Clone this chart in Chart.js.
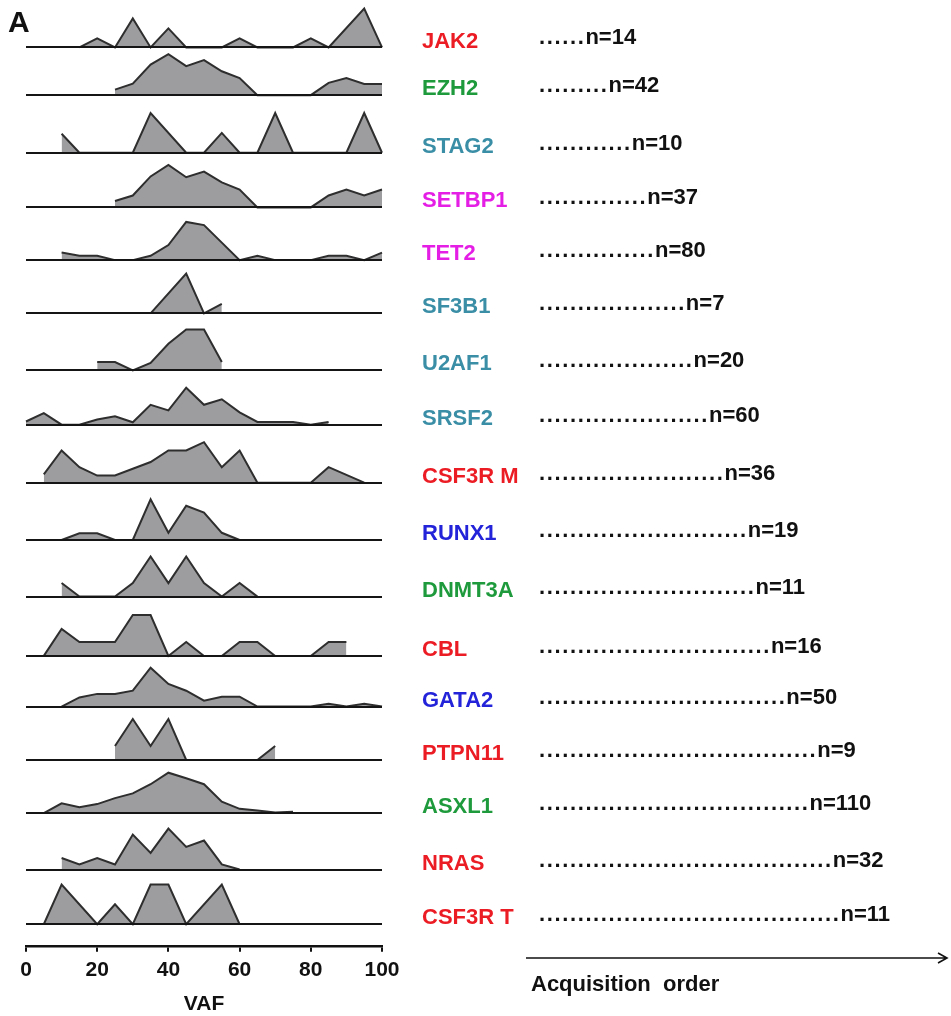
<!DOCTYPE html>
<html>
<head>
<meta charset="utf-8">
<title>VAF by gene</title>
<script src="https://cdn.jsdelivr.net/npm/chart.js@4.4.0/dist/chart.umd.min.js"></script>
<style>
    html, body { margin: 0; padding: 0; background: #fff; }
    #wrap { position: relative; width: 951px; height: 1016px; }
    canvas { display: block; }
</style>
</head>
<body>
<div id="wrap"><canvas id="vafChart" width="951" height="1016"></canvas></div>
<script>
// --- Data ---
// Genes in acquisition order (top to bottom)
const genes = ['JAK2', 'EZH2', 'STAG2', 'SETBP1', 'TET2', 'SF3B1', 'U2AF1', 'SRSF2', 'CSF3R M',
    'RUNX1', 'DNMT3A', 'CBL', 'GATA2', 'PTPN11', 'ASXL1', 'NRAS', 'CSF3R T'];
const geneCounts = [14, 42, 10, 37, 80, 7, 20, 60, 36, 19, 11, 16, 50, 9, 110, 32, 11];
// number of leader dots before each "n=" label
const leaderDots = [6, 9, 12, 14, 15, 19, 20, 22, 24, 27, 28, 30, 32, 36, 35, 38, 39];
const vafTicks = [0, 20, 40, 60, 80, 100];

// VAF distributions: [VAF %, relative frequency]
const jak2 = [[15, 0], [20, 2.3], [25, 0], [30, 7.3], [35, 0], [40, 4.8], [45, 0], [55, 0], [60, 2.3], [65, 0], [75, 0], [80, 2.3], [85, 0], [95, 9.8], [100, 0]];
const ezh2 = [[25, 1.4], [30, 2.9], [35, 7.7], [40, 10.3], [45, 7.3], [50, 8.8], [55, 6], [60, 4.3], [65, 0], [80, 0], [85, 3.1], [90, 4.3], [95, 2.8], [100, 2.8]];
const stag2 = [[10, 4.8], [15, 0], [30, 0], [35, 10], [45, 0], [50, 0], [55, 5], [60, 0], [65, 0], [70, 10], [75, 0], [90, 0], [95, 10], [100, 0]];
const setbp1 = [[25, 1.6], [30, 3], [35, 7.8], [40, 10.7], [45, 7.6], [50, 9], [55, 6.3], [60, 4.5], [65, 0], [80, 0], [85, 3], [90, 4.5], [95, 3], [100, 4.5]];
const tet2 = [[10, 1.9], [15, 1.1], [20, 1.1], [25, 0], [30, 0], [35, 1.1], [40, 3.8], [45, 9.6], [50, 8.8], [55, 4.4], [60, 0], [65, 1.1], [70, 0], [80, 0], [85, 1.1], [90, 1.1], [95, 0], [100, 1.9]];
const sf3b1 = [[35, 0], [45, 10], [50, 0], [55, 2.4]];
const u2af1 = [[20, 2.1], [25, 2.1], [30, 0], [35, 1.9], [40, 6.7], [45, 10.3], [50, 10.3], [55, 2.1]];
const srsf2 = [[0, 0.8], [5, 2.9], [10, 0], [15, 0], [20, 1.3], [25, 2.1], [30, 0.6], [35, 5], [40, 3.6], [45, 9.3], [50, 5], [55, 6.4], [60, 3.1], [65, 0.7], [70, 0.7], [75, 0.7], [80, 0], [85, 0.7]];
const csf3rM = [[5, 2.1], [10, 8.1], [15, 3.9], [20, 1.8], [25, 1.8], [30, 3.5], [35, 5.2], [40, 8.1], [45, 8.1], [50, 10.2], [55, 3.9], [60, 8.1], [65, 0], [80, 0], [85, 3.9], [95, 0]];
const runx1 = [[10, 0], [15, 1.7], [20, 1.7], [25, 0], [30, 0], [35, 10.2], [40, 1.8], [45, 8.6], [50, 6.9], [55, 1.8], [60, 0]];
const dnmt3a = [[10, 3.4], [15, 0], [25, 0], [30, 3.4], [35, 10.1], [40, 3.4], [45, 10.1], [50, 3.4], [55, 0], [60, 3.4], [65, 0]];
const cbl = [[5, 0], [10, 6.8], [15, 3.5], [20, 3.5], [25, 3.5], [30, 10.3], [35, 10.3], [40, 0], [45, 3.5], [50, 0], [55, 0], [60, 3.5], [65, 3.5], [70, 0], [80, 0], [85, 3.5], [90, 3.5]];
const gata2 = [[10, 0], [15, 2.3], [20, 3.2], [25, 3.2], [30, 4], [35, 9.8], [40, 5.7], [45, 4], [50, 1.5], [55, 2.5], [60, 2.5], [65, 0], [80, 0], [85, 0.7], [90, 0], [95, 0.7], [100, 0]];
const ptpn11 = [[25, 3.5], [30, 10.3], [35, 3.5], [40, 10.3], [45, 0], [65, 0], [70, 3.5]];
const asxl1 = [[5, 0], [10, 2.5], [15, 1.5], [20, 2.3], [25, 3.8], [30, 5], [35, 7.3], [40, 10.2], [45, 8.8], [50, 7.3], [55, 2.9], [60, 1.1], [65, 0.7], [70, 0.2], [75, 0.4]];
const nras = [[10, 2.9], [15, 1.3], [20, 2.9], [25, 1.3], [30, 8.8], [35, 4.2], [40, 10.3], [45, 5.7], [50, 7.3], [55, 1.3], [60, 0]];
const csf3rT = [[5, 0], [10, 10], [20, 0], [25, 5], [30, 0], [35, 10], [40, 10], [45, 0], [55, 10], [60, 0]];

const series = [jak2, ezh2, stag2, setbp1, tet2, sf3b1, u2af1, srsf2, csf3rM,
    runx1, dnmt3a, cbl, gata2, ptpn11, asxl1, nras, csf3rT];

// --- Styling / layout ---
const RED = '#ec1c24', GREEN = '#1e9a3c', TEAL = '#3a8ea6', MAGENTA = '#e51ee5', BLUE = '#2323d9';
const geneColors = [RED, GREEN, TEAL, MAGENTA, MAGENTA, TEAL, TEAL, TEAL, RED,
    BLUE, GREEN, RED, BLUE, RED, GREEN, RED, RED];
// height in px of each ridge's strip (ridges are unevenly spaced in the figure)
const rowBands = [41.7, 48, 58, 55, 53, 53.6, 57.4, 54.6, 58.4, 57.6, 57, 59.7, 51, 53.7, 53.6, 56.7, 55];
const bottomGap = 21.7;
const PX_PER_UNIT = 4;
const FONT = '"Liberation Sans", Arial, Helvetica, sans-serif';

// --- Scales: one stacked y axis per gene ---
const scales = {
    x: {
        type: 'linear',
        min: 0,
        max: 100,
        afterBuildTicks: axis => { axis.ticks = vafTicks.map(v => ({ value: v })); },
        ticks: { color: '#111', padding: 6, font: { family: FONT, size: 21, weight: 'bold' } },
        grid: { display: true, drawOnChartArea: false, drawTicks: true, tickLength: 6, color: '#111', lineWidth: 2 },
        border: { display: true, color: '#111', width: 2.5 },
        title: { display: true, text: 'VAF', color: '#111', padding: { top: 5, bottom: 0 },
            font: { family: FONT, size: 21, weight: 'bold', lineHeight: 1 } }
    }
};

genes.forEach((g, i) => {
    scales['y' + i] = {
        type: 'linear',
        position: 'right',
        stack: 'rows',
        stackWeight: rowBands[i],
        min: 0,
        max: rowBands[i] / PX_PER_UNIT,
        afterBuildTicks: axis => { axis.ticks = [{ value: 0 }]; },
        ticks: { display: false },
        grid: { drawTicks: false, color: '#151515', lineWidth: 2, z: 1 },
        border: { display: false }
    };
});
scales.yGap = {
    type: 'linear', position: 'right', stack: 'rows', stackWeight: bottomGap,
    min: 0, max: 1, display: false
};

const datasets = genes.map((g, i) => ({
    label: g,
    data: series[i].map(p => ({ x: p[0], y: p[1] })),
    yAxisID: 'y' + i,
    borderColor: '#2e2e2e',
    borderWidth: 2,
    backgroundColor: '#9d9d9f',
    fill: 'origin',
    pointRadius: 0,
    tension: 0,
    clip: false
}));

// --- Right-hand column: gene names, leader dots, counts, arrow ---
const sideLabels = {
    id: 'sideLabels',
    afterDraw(chart) {
        const ctx = chart.ctx;
        ctx.save();
        genes.forEach((g, i) => {
            const yBase = chart.scales['y' + i].getPixelForValue(0);

            ctx.font = `bold 22px ${FONT}`;
            ctx.textAlign = 'left';
            ctx.textBaseline = 'middle';
            ctx.fillStyle = geneColors[i];
            ctx.fillText(g, 422, yBase - 6);

            // dotted leader + n label (share a text baseline)
            const textBase = yBase - 3;
            ctx.fillStyle = '#111';
            ctx.textBaseline = 'alphabetic';
            const dotPitch = 7.73;
            let x = 539;
            for (let k = 0; k < leaderDots[i]; k++) {
                ctx.fillText('.', x, textBase);
                x += dotPitch;
            }
            ctx.fillText('n=' + geneCounts[i], x, textBase);
        });

        // acquisition order arrow
        const ay = 958;
        ctx.strokeStyle = '#111';
        ctx.lineWidth = 1.6;
        ctx.beginPath();
        ctx.moveTo(526, ay);
        ctx.lineTo(947, ay);
        ctx.moveTo(938, ay - 5);
        ctx.lineTo(947, ay);
        ctx.lineTo(938, ay + 5);
        ctx.stroke();

        ctx.fillStyle = '#111';
        ctx.font = `bold 22px ${FONT}`;
        ctx.textBaseline = 'middle';
        ctx.fillText('Acquisition  order', 531, 985);

        // panel letter
        ctx.font = `bold 30px ${FONT}`;
        ctx.fillText('A', 8, 24);
        ctx.restore();
    }
};

new Chart(document.getElementById('vafChart'), {
    type: 'line',
    data: { datasets: datasets },
    options: {
        responsive: false,
        devicePixelRatio: 1,
        animation: false,
        layout: { padding: { left: 26, right: 569, top: 6, bottom: 1 } },
        scales: scales,
        plugins: {
            legend: { display: false },
            tooltip: { enabled: false }
        }
    },
    plugins: [sideLabels]
});
</script>
</body>
</html>
